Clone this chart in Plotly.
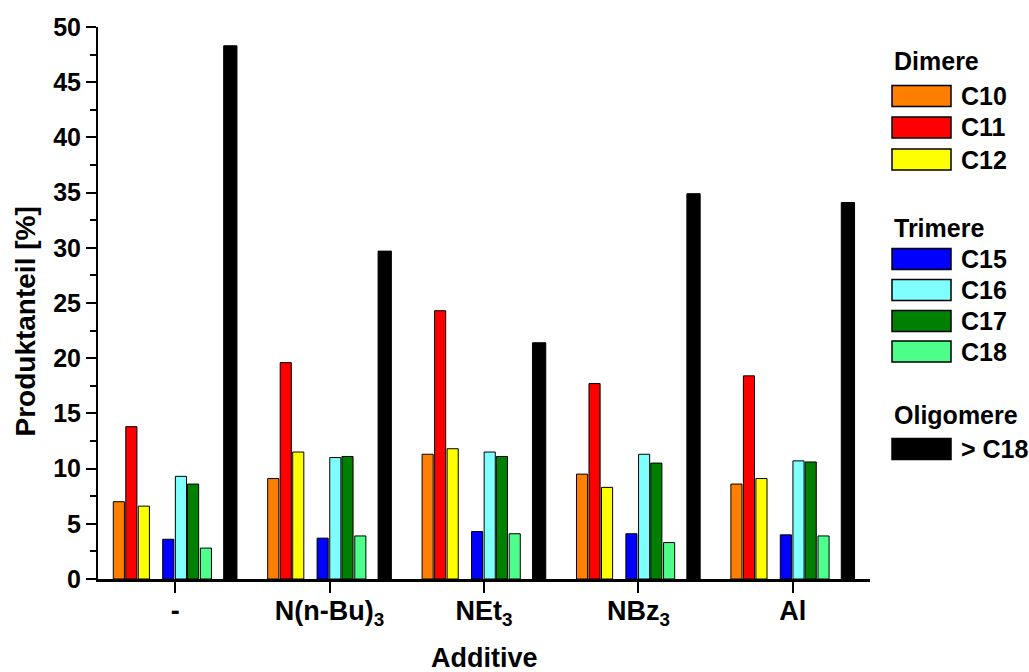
import plotly.graph_objects as go

# ---------------- data ----------------
categories = ["-", "N(n-Bu)<sub>3</sub>", "NEt<sub>3</sub>", "NBz<sub>3</sub>", "Al"]
series_names = ["C10", "C11", "C12", "C15", "C16", "C17", "C18", "> C18"]
C10 = [7.0, 9.1, 11.3, 9.5, 8.6]
C11 = [13.8, 19.6, 24.3, 17.7, 18.4]
C12 = [6.6, 11.5, 11.8, 8.3, 9.1]
C15 = [3.6, 3.7, 4.3, 4.1, 4.0]
C16 = [9.3, 11.0, 11.5, 11.3, 10.7]
C17 = [8.6, 11.1, 11.1, 10.5, 10.6]
C18 = [2.8, 3.9, 4.1, 3.3, 3.9]
gtC18 = [48.3, 29.7, 21.4, 34.9, 34.1]
series_values = [C10, C11, C12, C15, C16, C17, C18, gtC18]
legend_groups = [("Dimere", ["C10", "C11", "C12"]),
                 ("Trimere", ["C15", "C16", "C17", "C18"]),
                 ("Oligomere", ["> C18"])]

# ---------------- styles ----------------
colors = {"C10": "#FF8000", "C11": "#FF0000", "C12": "#FFFF00",
          "C15": "#0000FF", "C16": "#80FFFF", "C17": "#008000",
          "C18": "#4DFF8A", "> C18": "#000000"}
offsets = {"C10": -0.365, "C11": -0.284, "C12": -0.203,
           "C15": -0.045, "C16": 0.037, "C17": 0.116, "C18": 0.199,
           "> C18": 0.357}
widths = {n: 0.072 for n in series_names}
widths["> C18"] = 0.086

FONT = "Liberation Sans, Arial, sans-serif"
W, H = 1029, 672
L, T = 98, 27
R = W - 870
B = H - 579
pw, ph = W - L - R, H - T - B


def px_x(x):  # pixel -> paper
    return (x - L) / pw


def px_y(y):
    return (H - B - y) / ph


fig = go.Figure()
for name, vals in zip(series_names, series_values):
    w = widths[name]
    fig.add_trace(go.Bar(
        x=categories, y=vals, name=name,
        offset=offsets[name] - w / 2, width=w,
        marker=dict(color=colors[name], line=dict(color="#000000", width=1)),
        showlegend=False,
    ))

# ---------------- legend (drawn) ----------------
shapes = []
annotations = []
legend_pos = {"Dimere": 61, "C10": 96, "C11": 127.5, "C12": 159.5,
              "Trimere": 228, "C15": 259, "C16": 290, "C17": 321, "C18": 351.5,
              "Oligomere": 415, "> C18": 449}
box_x0, box_x1, box_h, text_x = 892, 951, 21, 959
for title, members in legend_groups:
    annotations.append(dict(
        text=title, x=px_x(box_x0), y=px_y(legend_pos[title]), xref="paper", yref="paper",
        xanchor="left", yanchor="middle", showarrow=False,
        font=dict(family=FONT, size=25, color="#000000", weight="bold")))
    for m in members:
        yc = legend_pos[m]
        shapes.append(dict(
            type="rect", xref="paper", yref="paper",
            x0=px_x(box_x0), x1=px_x(box_x1),
            y0=px_y(yc + box_h / 2), y1=px_y(yc - box_h / 2),
            fillcolor=colors[m], line=dict(color="#000000", width=1.5)))
        annotations.append(dict(
            text=m, x=px_x(text_x), y=px_y(yc), xref="paper", yref="paper",
            xanchor="left", yanchor="middle", showarrow=False,
            font=dict(family=FONT, size=25, color="#000000", weight="bold")))

# axis titles
annotations.append(dict(
    text="Produktanteil [%]", x=px_x(24.5), y=px_y(322), xref="paper", yref="paper",
    xanchor="center", yanchor="middle", textangle=-90, showarrow=False,
    font=dict(family=FONT, size=28, color="#000000", weight="bold")))
annotations.append(dict(
    text="Additive", x=px_x(484), y=px_y(658), xref="paper", yref="paper",
    xanchor="center", yanchor="middle", showarrow=False,
    font=dict(family=FONT, size=27, color="#000000", weight="bold")))

fig.update_layout(
    width=W, height=H,
    margin=dict(l=L, r=R, t=T, b=B, pad=0),
    barmode="overlay",
    plot_bgcolor="#FFFFFF", paper_bgcolor="#FFFFFF",
    shapes=shapes, annotations=annotations,
    showlegend=False,
    font=dict(family=FONT, color="#000000"),
)
fig.update_xaxes(
    type="category", range=[-0.5, 4.5],
    showline=True, linecolor="#000000", linewidth=2.5,
    ticks="outside", ticklen=11, tickwidth=2, tickcolor="#000000",
    ticklabelstandoff=-5,
    tickfont=dict(family=FONT, size=27, color="#000000", weight="bold"),
    showgrid=False, zeroline=False,
)
fig.update_yaxes(
    range=[0, 50], dtick=5, tick0=0,
    showline=True, linecolor="#000000", linewidth=2,
    ticks="outside", ticklen=10, tickwidth=2, tickcolor="#000000",
    tickfont=dict(family=FONT, size=25, color="#000000", weight="bold"),
    minor=dict(dtick=2.5, ticks="outside", ticklen=6, tickwidth=2, tickcolor="#000000", showgrid=False),
    showgrid=False, zeroline=False,
)

fig.write_html(
    "out.html",
    config={"displayModeBar": False},
    post_script="document.body.style.margin='0';document.body.style.overflow='hidden';",
)
